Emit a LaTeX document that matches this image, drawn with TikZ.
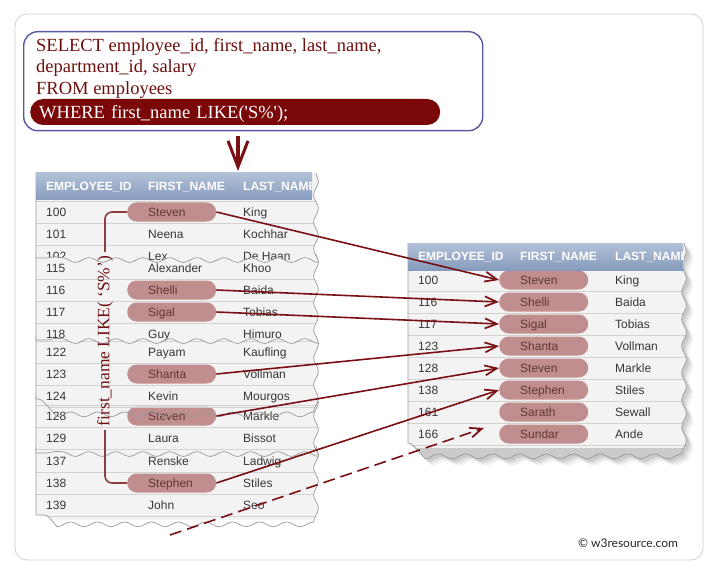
\documentclass[tikz,border=0pt]{standalone}
\usepackage{fontspec}
\setmainfont{Liberation Serif}
\setsansfont{Liberation Sans}
\newfontfamily\markfont{Lato}
\usetikzlibrary{arrows.meta,decorations.pathmorphing}

\definecolor{sqlred}{RGB}{110,16,16}
\definecolor{barred}{RGB}{122,8,8}
\definecolor{boxblue}{RGB}{88,88,160}
\definecolor{linkred}{RGB}{122,16,20}
\definecolor{pillrose}{RGB}{192,142,142}
\definecolor{pilltext}{RGB}{95,55,55}
\definecolor{celltext}{RGB}{55,55,55}
\definecolor{rowbg}{RGB}{243,243,243}
\definecolor{rowline}{RGB}{210,210,210}
\definecolor{headtop}{RGB}{178,193,216}
\definecolor{headbot}{RGB}{134,155,188}
\definecolor{bracketred}{RGB}{140,62,62}

% one torn piece of a table: prefix, left, right, top, bottom, first row y, rows
\newcommand\tornsheet[7]{%
  \begin{scope}
    \clip decorate{(#3,#4) -- (#3,#5) -- (#2,#5)} -- (#2,#4) -- cycle;
    \fill[rowbg] (#2-5,#4-5) rectangle (#3+5,#5+5);
    \foreach \eid/\efirst/\elast/\ehit [count=\i from 0] in {#7}{
      \pgfmathsetmacro\rowy{#6+22*\i}
      \draw[rowsep] (#2,\rowy-11) -- (#3+5,\rowy-11) (#2,\rowy+11) -- (#3+5,\rowy+11);
      \node[cell] (#1id\eid) at (#2+10,\rowy) {\eid};
      \ifnum\ehit=1
        \node[pill] (#1\eid) at (#2+91,\rowy) {\efirst};
      \else
        \node[cell] (#1fn\eid) at (#2+112,\rowy) {\efirst};
      \fi
      \node[cell] (#1ln\eid) at (#2+207,\rowy) {\elast};
    }
  \end{scope}
  \draw[tear] decorate{(#3,#4) -- (#3,#5) -- (#2,#5)} -- (#2,#4);
}

% table header: prefix, left, right, top
\newcommand\sheethead[4]{%
  \begin{scope}
    \clip (#2,#4) rectangle (#3,#4+27);
    \shade[top color=headtop, bottom color=headbot] (#2,#4) rectangle (#3,#4+27);
    \node[headcell] (#1h1) at (#2+10,#4+13.5) {EMPLOYEE\_ID};
    \node[headcell] (#1h2) at (#2+112,#4+13.5) {FIRST\_NAME};
    \node[headcell] (#1h3) at (#2+207,#4+13.5) {LAST\_NAME};
  \end{scope}
}

\begin{document}
\begin{tikzpicture}[x=1pt, y=-1pt,
  decoration={snake, amplitude=2.4pt, segment length=27pt},
  cell/.style={anchor=west, inner sep=0pt, text=celltext,
    font=\sffamily\fontsize{12}{14}\selectfont, text height=8.6pt, text depth=0pt},
  headcell/.style={cell, text=white, font=\sffamily\bfseries\fontsize{12}{14}\selectfont},
  pill/.style={cell, fill=pillrose, text=pilltext, rounded corners=9.5pt,
    minimum height=19pt, inner xsep=21pt, text width=47pt, align=left},
  rowsep/.style={draw=rowline, line width=.6pt},
  tear/.style={draw=black!40, line width=.7pt},
  sqltext/.style={anchor=base west, inner sep=0pt, text=sqlred,
    font=\fontsize{18.5}{21}\selectfont},
  querybox/.style={draw=boxblue, line width=1.4pt, rounded corners=14pt,
    anchor=north west, minimum width=459pt, minimum height=99pt},
  wherebar/.style={anchor=west, fill=barred, text=white, rounded corners=13pt,
    minimum height=26pt, inner xsep=9pt, inner ysep=0pt, text width=392pt,
    align=left, font=\fontsize{18.5}{21}\selectfont, text height=12.2pt, text depth=0pt},
  bracket/.style={draw=bracketred, line width=1.6pt, rounded corners=7pt},
  drop/.style={draw=linkred, line width=4.5pt,
    -{Straight Barb[length=26pt, width=20pt, line width=3pt]}},
  link/.style={draw=linkred, line width=1.6pt,
    -{Straight Barb[length=12pt, width=10pt, line width=1.7pt]}}]

  \useasboundingbox (0,0) rectangle (718,575);
  \fill[white] (0,0) rectangle (718,575);
  \draw[black!18, line width=.8pt, rounded corners=12pt] (15,14) rectangle (703,560);

  % left table, torn into pieces (lowest first)
  \tornsheet{l}{36}{316}{446}{515}{461}{137/Renske/Ladwig/0, 138/Stephen/Stiles/1, 139/John/Seo/0}
  \tornsheet{l}{36}{316}{394}{453}{416}{128/Steven/Markle/1, 129/Laura/Bissot/0}
  \tornsheet{l}{36}{316}{336}{399}{352}{122/Payam/Kaufling/0, 123/Shanta/Vollman/1, 124/Kevin/Mourgos/0}
  \tornsheet{l}{36}{316}{254}{340}{268}{115/Alexander/Khoo/0, 116/Shelli/Baida/1, 117/Sigal/Tobias/1, 118/Guy/Himuro/0}
  \tornsheet{l}{36}{316}{173}{258}{212}{100/Steven/King/1, 101/Neena/Kochhar/0, 102/Lex/De Haan/0}
  \sheethead{l}{36}{312}{173}

  % result table with its shadow
  \foreach \s/\o in {7/.05,5/.07,3/.09}
    \fill[black, opacity=\o, xshift=\s pt, yshift=-\s pt]
      decorate{(684,243) -- (684,443) -- (408,443)} -- (408,243) -- cycle;
  \tornsheet{r}{408}{684}{243}{443}{280}{100/Steven/King/1, 116/Shelli/Baida/1, 117/Sigal/Tobias/1, 123/Shanta/Vollman/1, 128/Steven/Markle/1, 138/Stephen/Stiles/1, 161/Sarath/Sewall/1, 166/Sundar/Ande/1}
  \sheethead{r}{408}{683}{243}

  % query
  \node[querybox] (query) at (23,31) {};
  \node[sqltext] (sel) at (36,52) {SELECT employee\_id, first\_name, last\_name,};
  \node[sqltext] (cols) at (36,73) {department\_id, salary};
  \node[sqltext] (from) at (36,95) {FROM employees};
  \node[wherebar] (where) at (30,112) {WHERE first\_name LIKE(\textquotesingle S\%\textquotesingle);};

  \coordinate (lhtop) at (238,171);
  \draw[drop, shorten <=5pt] (query.south -| lhtop) -- (lhtop);

  % condition bracket
  \node[rotate=90, inner sep=4pt, text=sqlred, font=\fontsize{17.4}{21}\selectfont]
    (brk) at (105,341) {first\_name LIKE( `S\%')};
  \draw[bracket] (l100.west) -| (brk.east);
  \draw[bracket] (l138.west) -| (brk.west);

  % matches
  \foreach \k in {100,116,117,123,128,138}
    \draw[link] (l\k.east) -- (r\k.west);
  \coordinate (dfrom) at (170,535);
  \coordinate (dto) at (484,428);
  \draw[link, dash pattern=on 12pt off 6pt] (dfrom) -- (dto);

  \node[inner sep=0pt, text=black!85, font=\markfont\fontsize{12}{14}\selectfont]
    (credit) at (628,543) {© w3resource.com};
\end{tikzpicture}
\end{document}
